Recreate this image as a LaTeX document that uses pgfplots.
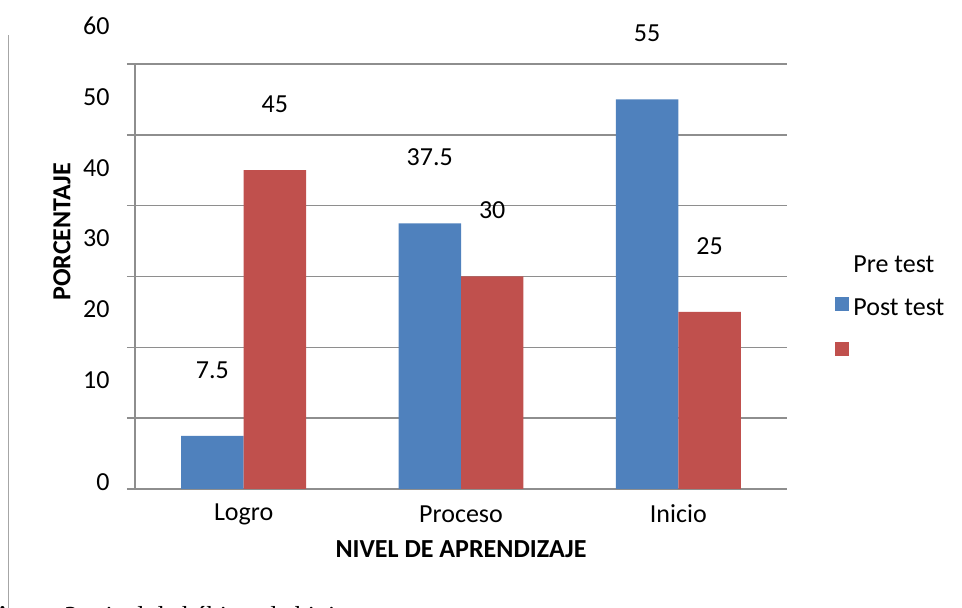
\documentclass[border=0pt]{standalone}
\usepackage{pgfplots}
\pgfplotsset{compat=1.18}
\usepackage{fontspec}
\setmainfont{Carlito}
\newfontfamily\capfont{Liberation Serif}
\definecolor{barblue}{HTML}{4F81BD}
\definecolor{barred}{HTML}{C0504D}
\definecolor{gridgray}{HTML}{8E8E8E}
\begin{document}
\fontsize{13}{15.6}\selectfont
\begin{tikzpicture}
\useasboundingbox (0,0) rectangle (481pt,304pt);
\draw[color=gray!70, line width=0.75pt] (4.25pt,0) -- (4.25pt,286.5pt);
\begin{axis}[
  at={(67.5pt,59.5pt)}, anchor=south west,
  scale only axis, width=326pt, height=212.5pt,
  ybar=0pt, bar width=0.2875,
  xmin=-0.5, xmax=2.5, ymin=0, ymax=60,
  xtick={0,1,2}, xticklabels={Logro,Proceso,Inicio},
  ytick={10,20,...,60},
  extra y ticks={0},
  extra y tick style={yticklabel style={yshift=-15.5pt}},
  axis lines=left, axis line style={-, draw=gridgray, line width=0.8pt},
  ymajorgrids, grid style={draw=gridgray, line width=0.8pt},
  x tick style={draw=none}, major tick length=4pt, tick align=outside,
  y tick style={draw=gridgray, line width=0.8pt},
  yticklabel style={anchor=east, xshift=-4.2pt, yshift=19pt},
  xticklabel style={anchor=center, yshift=-8.5pt},
  /pgf/number format/assume math mode=true,
  xlabel={\textbf{NIVEL DE APRENDIZAJE}},
  ylabel={\textbf{PORCENTAJE}},
  xlabel style={at={(axis description cs:0.5,-0.141)}, anchor=center},
  ylabel style={at={(axis description cs:-0.112,0.605)}, anchor=center},
  clip=false,
  nodes near coords,
  nodes near coords style={anchor=center, yshift=33pt, text=black},
  legend style={at={(axis description cs:1.0644,0.569)}, anchor=north west,
    draw=none, fill=none, row sep=-8pt, legend cell align=left},
  legend image code/.code={\fill[#1] (0pt,-3.5pt) rectangle (7pt,3.5pt);},
]
\addplot[fill=barblue, draw=none] coordinates {(0,7.5) (1,37.5) (2,55)};
\addlegendentry[yshift=19pt]{Pre test}
\addplot[fill=barred, draw=none] coordinates {(0,45) (1,30) (2,25)};
\addlegendentry[yshift=20pt]{Post test}
\end{axis}
\node[anchor=base west, inner sep=0pt, font={\capfont\fontsize{13}{15.6}\selectfont}] at (-8.75pt,-8.5pt) {\textbf{Figura 3.} nivel de hábitos de higiene pre test y post test};
\end{tikzpicture}
\end{document}
